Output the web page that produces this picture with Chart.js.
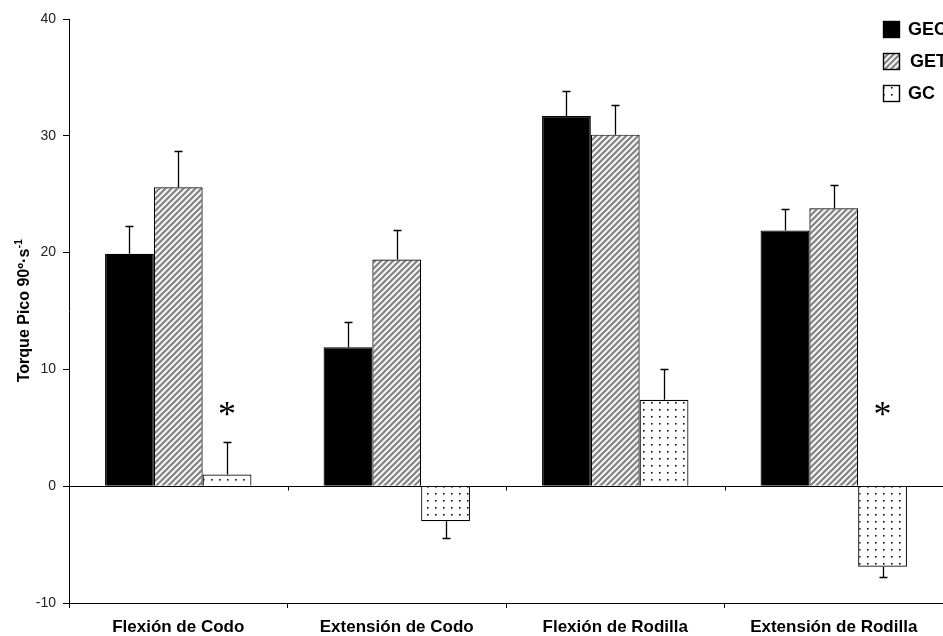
<!DOCTYPE html>
<html>
<head>
<meta charset="utf-8">
<script src="https://cdn.jsdelivr.net/npm/chart.js@4/dist/chart.umd.min.js"></script>
<style>body{margin:0;background:#fff}</style>
</head>
<body>
<canvas id="canvasTorque" width="943" height="636"></canvas>
<script>
"use strict";

var categories = ['Flexión de Codo', 'Extensión de Codo', 'Flexión de Rodilla', 'Extensión de Rodilla'];
var seriesNames = ['GEC', 'GET', 'GC'];
var gecValues = [19.9, 11.9, 31.7, 21.9];
var gecErrors = [2.4, 2.2, 2.1, 1.8];
var getValues = [25.6, 19.4, 30.1, 23.8];
var getErrors = [3.1, 2.5, 2.5, 2.0];
var gcValues = [1.0, -3.0, 7.4, -6.9];
var gcErrors = [2.8, 1.4, 2.6, 0.9];
var gcSignificant = [true, false, false, true];
var asteriskLevel = 6.4;
var yTicks = [-10, 0, 10, 20, 30, 40];
var yTitle = 'Torque Pico 90º·s';
var yTitleSup = '-1';

var sansFont = "'Liberation Sans', Arial, sans-serif";
var narrowFont = "'Liberation Sans Narrow', 'Arial Narrow', 'Liberation Sans', Arial, sans-serif";

function makeHatch() {
    var s = 6;
    var c = document.createElement('canvas');
    c.width = s; c.height = s;
    var g = c.getContext('2d');
    g.fillStyle = '#fff';
    g.fillRect(0, 0, s, s);
    g.strokeStyle = '#888';
    g.lineWidth = 2.3;
    g.beginPath();
    g.moveTo(-1, 1); g.lineTo(1, -1);
    g.moveTo(-1, s + 1); g.lineTo(s + 1, -1);
    g.moveTo(s - 1, s + 1); g.lineTo(s + 1, s - 1);
    g.stroke();
    return g.createPattern(c, 'repeat');
}

function makeDots() {
    var c = document.createElement('canvas');
    c.width = 8; c.height = 7;
    var g = c.getContext('2d');
    g.fillStyle = '#fff';
    g.fillRect(0, 0, 8, 7);
    g.fillStyle = '#111';
    g.fillRect(3, 3, 1.6, 1.6);
    return g.createPattern(c, 'repeat');
}

var errorBarPlugin = {
    id: 'errorBars',
    afterDatasetsDraw: function (chart) {
        var ctx = chart.ctx;
        var yScale = chart.scales.y;
        ctx.save();
        ctx.strokeStyle = '#000';
        ctx.lineWidth = 1.3;
        chart.data.datasets.forEach(function (ds, di) {
            chart.getDatasetMeta(di).data.forEach(function (bar, i) {
                var v = ds.data[i];
                var end = v >= 0 ? v + ds.errors[i] : v - ds.errors[i];
                var x = Math.round(bar.x) + 0.5;
                var y0 = yScale.getPixelForValue(v);
                var y1 = Math.round(yScale.getPixelForValue(end)) + 0.5;
                ctx.beginPath();
                ctx.moveTo(x, y0);
                ctx.lineTo(x, y1);
                ctx.moveTo(x - 4, y1);
                ctx.lineTo(x + 4, y1);
                ctx.stroke();
            });
        });
        // asterisks over the GC bars
        var gcMeta = chart.getDatasetMeta(2);
        ctx.fillStyle = '#000';
        ctx.font = "36px 'Liberation Serif', 'Times New Roman', serif";
        ctx.textAlign = 'center';
        ctx.textBaseline = 'middle';
        gcSignificant.forEach(function (flag, i) {
            if (!flag) return;
            ctx.fillText('*', gcMeta.data[i].x, yScale.getPixelForValue(asteriskLevel) + 5);
        });
        ctx.restore();
    }
};

var zeroLinePlugin = {
    id: 'zeroLine',
    beforeDatasetsDraw: function (chart) {
        var ctx = chart.ctx;
        var area = chart.chartArea;
        var xScale = chart.scales.x;
        var y = Math.round(chart.scales.y.getPixelForValue(0)) + 0.5;
        ctx.save();
        ctx.strokeStyle = '#000';
        ctx.lineWidth = 1;
        ctx.beginPath();
        ctx.moveTo(area.left, y);
        ctx.lineTo(area.right, y);
        for (var i = 1; i < categories.length; i++) {
            var x = Math.round((xScale.getPixelForTick(i - 1) + xScale.getPixelForTick(i)) / 2) + 0.5;
            ctx.moveTo(x, y);
            ctx.lineTo(x, y + 4);
        }
        ctx.stroke();
        ctx.restore();
    }
};

var decorPlugin = {
    id: 'decor',
    afterDraw: function (chart) {
        var ctx = chart.ctx;
        var area = chart.chartArea;
        ctx.save();

        // legend
        var rows = [29, 61, 93];
        chart.data.datasets.forEach(function (ds, i) {
            ctx.fillStyle = ds.backgroundColor;
            ctx.fillRect(883, rows[i] - 8, 17, 17);
            ctx.strokeStyle = '#000';
            ctx.lineWidth = 1.4;
            ctx.strokeRect(883.5, rows[i] - 7.5, 16, 16);
            ctx.fillStyle = '#000';
            ctx.font = "bold 18px " + sansFont;
            ctx.textAlign = 'left';
            ctx.textBaseline = 'middle';
            ctx.fillText(ds.label, i === 1 ? 910 : 908, rows[i] + 1);
        });

        // y axis title with superscript
        var cy = (area.top + area.bottom) / 2;
        ctx.translate(23, cy);
        ctx.rotate(-Math.PI / 2);
        ctx.font = "bold 16px " + sansFont;
        var w1 = ctx.measureText(yTitle).width;
        ctx.font = "bold 10px " + sansFont;
        var w2 = ctx.measureText(yTitleSup).width;
        var start = -(w1 + w2) / 2;
        ctx.fillStyle = '#000';
        ctx.textAlign = 'left';
        ctx.textBaseline = 'alphabetic';
        ctx.font = "bold 16px " + sansFont;
        ctx.fillText(yTitle, start, 6);
        ctx.font = "bold 10px " + sansFont;
        ctx.fillText(yTitleSup, start + w1 + 0.5, -1);
        ctx.restore();
    }
};

const context = document.getElementById('canvasTorque');
const myChart = new Chart(context, {
    type: 'bar',
    data: {
        labels: categories,
        datasets: [{
            label: seriesNames[0],
            data: gecValues,
            errors: gecErrors,
            backgroundColor: '#000',
            borderColor: '#000',
            borderWidth: 1.2
        }, {
            label: seriesNames[1],
            data: getValues,
            errors: getErrors,
            backgroundColor: makeHatch(),
            borderColor: '#000',
            borderWidth: 1.2
        }, {
            label: seriesNames[2],
            data: gcValues,
            errors: gcErrors,
            backgroundColor: makeDots(),
            borderColor: '#000',
            borderWidth: 1.2
        }]
    },
    options: {
        responsive: false,
        animation: false,
        devicePixelRatio: 1,
        layout: { padding: { top: 19, right: 0, bottom: 0, left: 0 } },
        datasets: {
            bar: { categoryPercentage: 0.67, barPercentage: 1.0 }
        },
        plugins: {
            legend: { display: false },
            tooltip: { enabled: false }
        },
        scales: {
            x: {
                offset: true,
                afterFit: function (scale) { scale.height = 33; },
                grid: { offset: true, drawOnChartArea: false, color: '#000', tickLength: 5 },
                border: { color: '#000', width: 1 },
                ticks: {
                    color: '#000',
                    padding: 9,
                    maxRotation: 0,
                    font: { family: sansFont, size: 17, weight: 'bold' }
                }
            },
            y: {
                min: -10,
                max: 40,
                afterFit: function (scale) { scale.width = 69; },
                afterBuildTicks: function (scale) {
                    scale.ticks = yTicks.map(function (v) { return { value: v }; });
                },
                grid: { drawOnChartArea: false, color: '#000', tickLength: 6 },
                border: { color: '#000', width: 1 },
                ticks: {
                    color: '#222',
                    padding: 7,
                    font: { family: narrowFont, size: 14 }
                }
            }
        }
    },
    plugins: [zeroLinePlugin, errorBarPlugin, decorPlugin]
});
</script>
</body>
</html>
